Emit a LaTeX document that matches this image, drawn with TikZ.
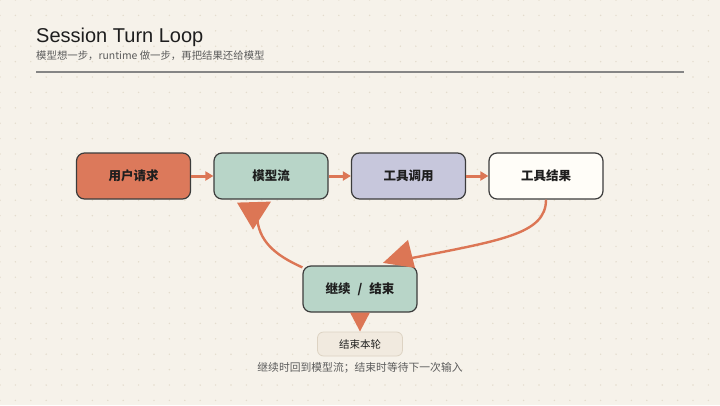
\documentclass[tikz,border=0pt]{standalone}
\usepackage{fontspec}
\setmainfont{Liberation Sans}
\newfontfamily\cjk{Noto Sans CJK SC}
\usetikzlibrary{arrows.meta}

\definecolor{paper}{HTML}{F6F2EA}
\definecolor{grid}{HTML}{E4DCCD}
\definecolor{ink}{HTML}{1E1E1E}
\definecolor{soft}{HTML}{5C5C5C}
\definecolor{edge}{HTML}{3C3C3C}
\definecolor{accent}{HTML}{DC7655}
\definecolor{boxred}{HTML}{DC795B}
\definecolor{boxmint}{HTML}{B8D5C8}
\definecolor{boxlav}{HTML}{C7C7DC}
\definecolor{boxwhite}{HTML}{FFFDF8}
\definecolor{boxsand}{HTML}{F1EADF}
\definecolor{sandedge}{HTML}{DDD3C3}

\begin{document}
\begin{tikzpicture}[x=1pt,y=-1pt,node distance={137.5pt}]
			\tikzstyle{bx}=[rectangle, rounded corners=8pt, draw=edge, line width=1.2pt, minimum width=114pt, minimum height=46pt, text=ink, font=\cjk\bfseries\fontsize{12.5}{15}\selectfont]
			\tikzstyle{b1}=[fill=boxred]
			\tikzstyle{b2}=[fill=boxmint]
			\tikzstyle{b3}=[fill=boxlav]
			\tikzstyle{b4}=[fill=boxwhite]
			\tikzstyle{lbl}=[rectangle, rounded corners=6pt, draw=sandedge, line width=0.8pt, fill=boxsand, minimum width=85pt, minimum height=24pt, text=ink, font=\cjk\fontsize{10.5}{13}\selectfont]
			\tikzstyle{fl}=[draw=accent, line width=3pt, -{Triangle[length=8pt,width=9pt]}]
			\tikzstyle{lp}=[draw=accent, line width=2.4pt]
			\tikzstyle{hd}=[fill=accent]

			% page and dot grid
			\useasboundingbox (0,0) rectangle (720,405);
			\fill[paper] (0,0) rectangle (720,405);
			\foreach \i in {0,...,46}
			\foreach \j in {0,...,26}
			\fill[grid] (\i*15.4,\j*15.4) circle (0.8);

			% header
			\node[anchor=base west, inner sep=0pt, text=ink, font=\fontsize{20}{24}\selectfont] (title) at (36,42) {Session Turn Loop};
			\node[anchor=west, inner sep=0pt, text=soft, font=\cjk\fontsize{10.4}{13}\selectfont] (sub) at (36,55.5) {模型想一步，runtime 做一步，再把结果还给模型};
			\draw[draw=black!48, line width=1.6pt] (36,71.7) -- (684,71.7);

			% boxes
			\node[bx,b1] (req) at (133.5,176) {用户请求};
			\node[bx,b2] (model) [right of=req] {模型流};
			\node[bx,b3] (call) [right of=model] {工具调用};
			\node[bx,b4] (res) [right of=call] {工具结果};
			\node[bx,b2] (turn) at (360,289) {继续\hspace{4pt} / \hspace{4pt}结束};
			\node[lbl] (stop) [below of=turn, node distance=55pt] {结束本轮};
			\node[text=soft, inner sep=0pt, font=\cjk\fontsize{10.8}{13}\selectfont] (note) [below of=stop, node distance=24pt] {继续时回到模型流；结束时等待下一次输入};

			\foreach \from/\to in {req/model,model/call,call/res}
			\draw [fl] (\from) -- (\to);
			\draw [fl, -{Triangle[length=19pt,width=19pt]}] (turn) -- (stop);

			% loop back
			\draw [lp] (res.south) .. controls +(0,35) and +(95,-19) .. ([xshift=45pt,yshift=6pt]turn.north);
			\fill [hd] ([xshift=23pt,yshift=2.5pt]turn.north) -- ++(25,-23) -- ++(7,28) -- cycle;
			\draw [lp] ([yshift=-2pt]turn.north west) .. controls +(-28,-12.5) and +(1,25) .. ([xshift=-14pt,yshift=-16pt]model.south);
			\fill [hd] ([xshift=-34pt,yshift=-3pt]model.south) -- ++(34,-1) -- ++(-18,28) -- cycle;
		\end{tikzpicture}
\end{document}
